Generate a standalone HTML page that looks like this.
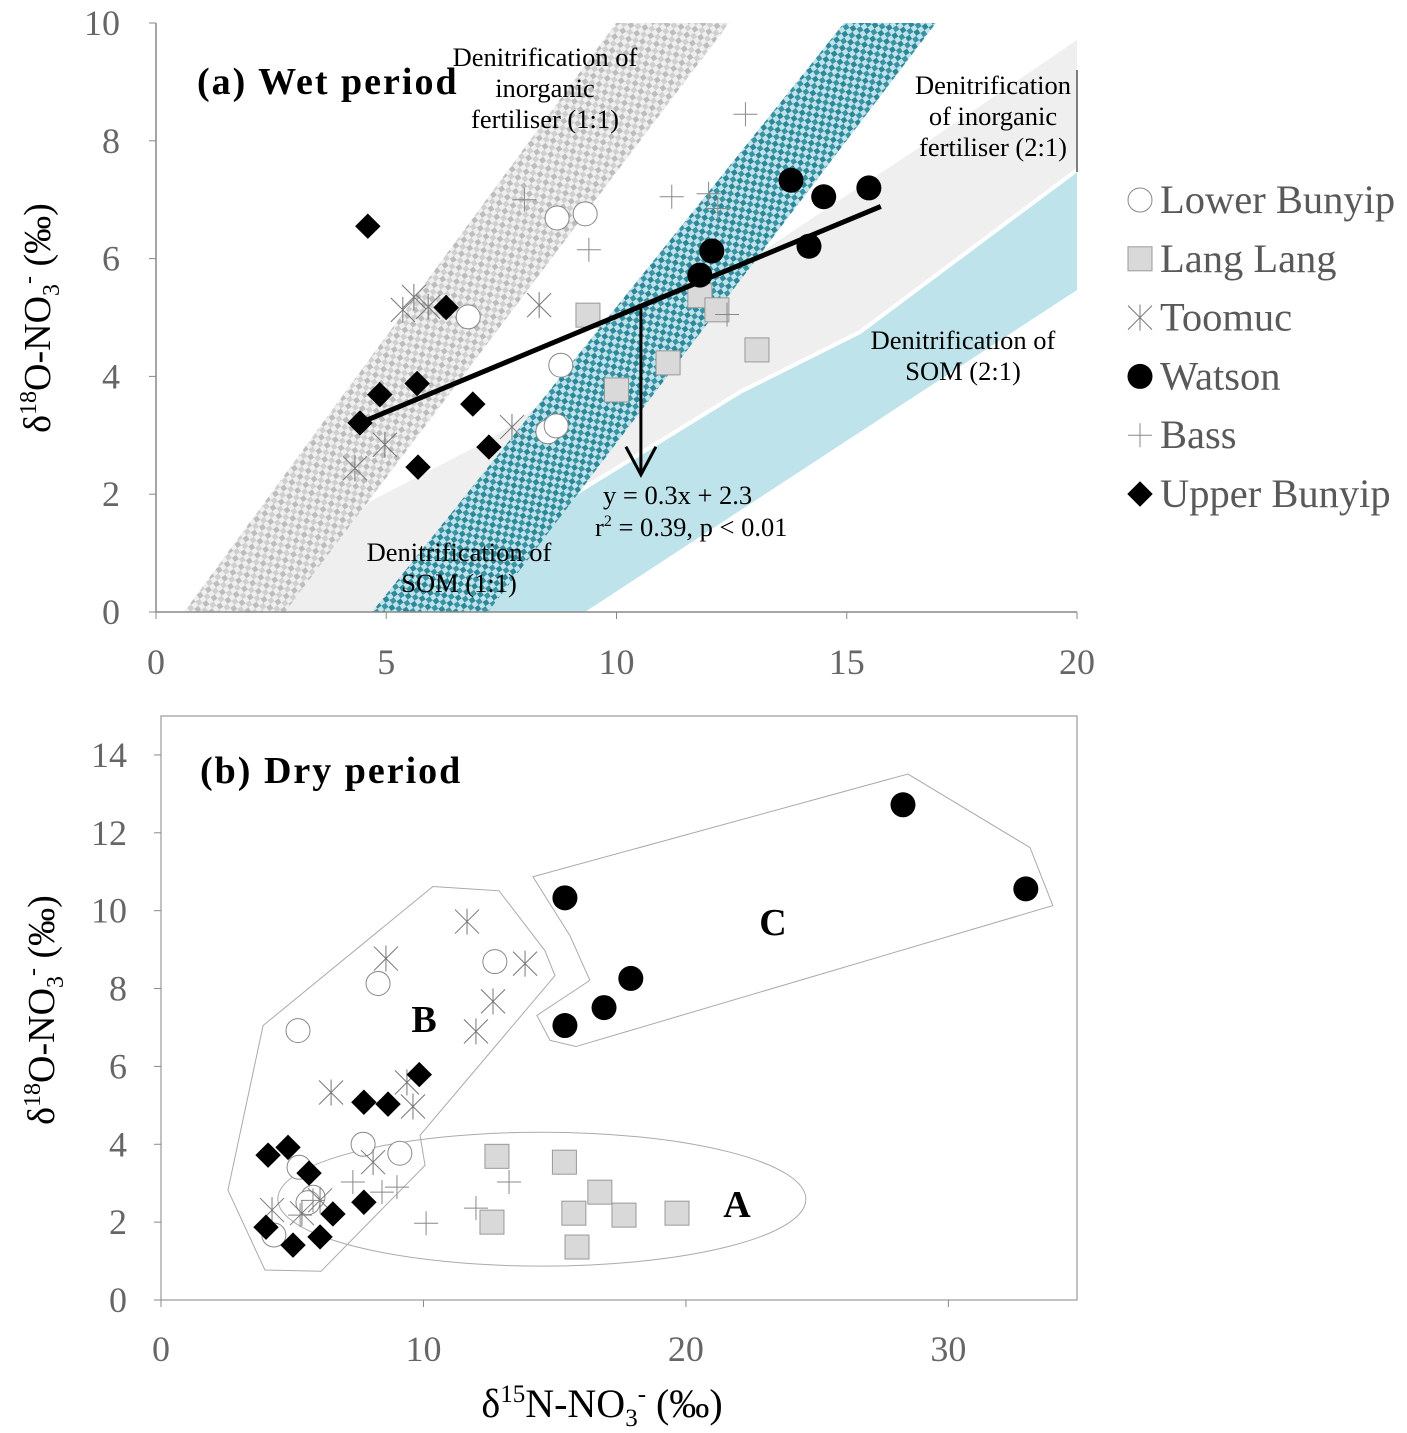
<!DOCTYPE html>
<html><head><meta charset="utf-8">
<style>
body{margin:0;background:#fff;}
svg{display:block;font-family:"Liberation Serif",serif;}
</style></head>
<body>
<svg id="chart" width="1407" height="1433" viewBox="0 0 1407 1433">
<defs>
<pattern id="grayChk" width="10" height="10" patternUnits="userSpaceOnUse" patternTransform="rotate(-35)">
<rect width="10" height="10" fill="#efefef"/><rect x="0" y="0" width="5" height="5" fill="#bdbdbd"/><rect x="5" y="5" width="5" height="5" fill="#d0d0d0"/>
</pattern>
<pattern id="tealChk" width="10" height="10" patternUnits="userSpaceOnUse" patternTransform="rotate(-35)">
<rect width="10" height="10" fill="#bfe3ea"/><rect x="0" y="0" width="5" height="5" fill="#2e8799"/><rect x="5" y="5" width="5" height="5" fill="#3a93a4"/>
</pattern>
<clipPath id="clipA"><rect x="156" y="23" width="921" height="589"/></clipPath>
</defs>
<g id="panelA"></g>
<g id="panelB"></g>
<g id="legend"></g>
</svg>
<script>
// ---------- Panel A data ----------
const aLowerX=[8.71,9.32,6.78,8.79,8.51,8.69];
const aLowerY=[6.69,6.76,5.01,4.19,3.06,3.16];
const aLangX=[9.38,10.0,11.12,11.81,12.18,13.05];
const aLangY=[5.04,3.77,4.23,5.37,5.13,4.45];
const aToomX=[5.6,5.36,5.91,8.32,4.97,4.32,7.73];
const aToomY=[5.35,5.13,5.18,5.21,2.84,2.44,3.14];
const aWatX=[13.79,14.5,15.48,12.07,11.81,14.18];
const aWatY=[7.33,7.05,7.2,6.13,5.72,6.21];
const aBassX=[8.0,9.4,12.8,11.2,12.0,12.2,12.4];
const aBassY=[7.0,6.15,8.45,7.05,7.1,6.85,5.05];
const aUpX=[4.6,6.3,5.67,4.86,4.43,6.88,5.69,7.23];
const aUpY=[6.55,5.17,3.88,3.69,3.21,3.53,2.46,2.8];
const aXTicks=[0,5,10,15,20];
const aYTicks=[0,2,4,6,8,10];
const fitSlope=0.325, fitIntercept=1.77, fitXStart=4.43, fitXEnd=15.74;
// ---------- Panel B data ----------
const bLowerX=[8.27,12.72,5.22,7.7,9.1,5.26,5.79,4.3,5.6];
const bLowerY=[8.13,8.69,6.92,4.0,3.77,3.41,2.64,1.67,2.5];
const bLangX=[12.8,15.37,16.72,15.73,17.64,19.66,12.61,15.85];
const bLangY=[3.69,3.54,2.77,2.23,2.18,2.23,2.0,1.36];
const bToomX=[11.66,8.57,13.87,12.65,12.0,6.48,9.37,9.6,8.08,4.23,6.06,5.37];
const bToomY=[9.72,8.77,8.64,7.67,6.9,5.33,5.59,4.97,3.54,2.31,2.56,2.23];
const bWatX=[15.39,28.27,32.95,17.9,16.88,15.39];
const bWatY=[10.33,12.72,10.56,8.26,7.51,7.05];
const bBassX=[7.31,8.99,8.42,13.26,12.0,10.1,5.79,5.3];
const bBassY=[3.03,2.9,2.77,3.03,2.36,1.97,2.56,2.18];
const bUpX=[9.84,7.73,8.65,4.08,4.84,5.64,7.73,6.55,4.0,5.03,6.06];
const bUpY=[5.79,5.08,5.03,3.72,3.92,3.26,2.51,2.21,1.87,1.41,1.62];
const bXTicks=[0,10,20,30];
const bYTicks=[0,2,4,6,8,10,12,14];
const hullBX=[3.89,10.36,12.88,14.63,15.01,9.87,10.06,6.1,3.96,2.55];
const hullBY=[7.05,10.62,10.51,8.97,8.33,4.23,3.46,0.74,0.77,2.82];
const hullCX=[14.17,28.46,33.11,33.98,15.81,14.82,14.32,16.34,15.58];
const hullCY=[10.87,13.51,11.62,10.13,6.51,6.67,7.31,8.21,9.36];
const ellA=[14.51,2.59,10.06,1.72];

const NS="http://www.w3.org/2000/svg";
function mk(parent,tag,attrs,text){const e=document.createElementNS(NS,tag);for(const k in attrs)e.setAttribute(k,attrs[k]);if(text!==undefined)e.textContent=text;parent.appendChild(e);return e;}

const axA={x0:156,x1:1077,y0:612,y1:23,xmin:0,xmax:20,ymin:0,ymax:10};
const axB={x0:161,x1:1077,y0:1300,y1:716,xmin:0,xmax:34.9,ymin:0,ymax:15};
function sx(ax,v){return ax.x0+(v-ax.xmin)/(ax.xmax-ax.xmin)*(ax.x1-ax.x0);}
function sy(ax,v){return ax.y0-(v-ax.ymin)/(ax.ymax-ax.ymin)*(ax.y0-ax.y1);}

function drawMarker(g,type,x,y){
  let e;
  if(type==='circle'){e=mk(g,'circle',{cx:x,cy:y,r:12,fill:'#fff',stroke:'#888','stroke-width':1});}
  else if(type==='square'){e=mk(g,'rect',{x:x-12,y:y-12,width:24,height:24,fill:'#d9d9d9',stroke:'#999','stroke-width':1});}
  else if(type==='x'){e=mk(g,'path',{d:`M${x-12},${y-12}L${x+12},${y+12}M${x-12},${y+12}L${x+12},${y-12}M${x},${y-13}L${x},${y+13}`,stroke:'#777','stroke-width':1,fill:'none'});}
  else if(type==='dot'){e=mk(g,'circle',{cx:x,cy:y,r:12.5,fill:'#000'});}
  else if(type==='plus'){e=mk(g,'path',{d:`M${x-12},${y}L${x+12},${y}M${x},${y-12}L${x},${y+12}`,stroke:'#888','stroke-width':1,fill:'none'});}
  else {e=mk(g,'rect',{x:x-9,y:y-9,width:18,height:18,fill:'#000',transform:`rotate(45 ${x} ${y})`});}
  return e;
}
function series(g,ax,xs,ys,type,name){
  const sg=mk(g,'g',{});
  
  
  xs.forEach((v,i)=>{const m=drawMarker(sg,type,sx(ax,v),sy(ax,ys[i]));
    
    });
}

// ---------- Panel A ----------
const A=document.getElementById('panelA');
const bands=mk(A,'g',{'clip-path':'url(#clipA)'});


mk(bands,'polygon',{points:'270,612 369,502 489,440 760,253 920,147 1077,40 1077,168 860,332 740,392 560,503 470,612',fill:'#efefef'});
mk(bands,'polygon',{points:'470,612 560,503 740,392 860,332 1077,170 1077,290 585,612',fill:'#bfe3ea'});
mk(bands,'polyline',{points:'470,612 560,503 740,392 860,332 1077,170',fill:'none',stroke:'#fff','stroke-width':4});
mk(bands,'polygon',{points:'184,612 616,23 729,23 285,612',fill:'url(#grayChk)'});
mk(bands,'polygon',{points:'372,612 844,23 936,23 488,612',fill:'url(#tealChk)'});

mk(A,'line',{x1:156,y1:23,x2:156,y2:612,stroke:'#888','stroke-width':1.5});
mk(A,'line',{x1:156,y1:612,x2:1077,y2:612,stroke:'#888','stroke-width':1.5});
mk(A,'line',{x1:1077,y1:70,x2:1077,y2:172,stroke:'#555','stroke-width':1.5});
aXTicks.forEach(t=>{const x=sx(axA,t);mk(A,'line',{x1:x,y1:612,x2:x,y2:619,stroke:'#888'});
  const l=mk(A,'text',{x:x,y:674,'text-anchor':'middle','font-size':36,fill:'#666'},t);
  });
aYTicks.forEach(t=>{const y=sy(axA,t);mk(A,'line',{x1:149,y1:y,x2:156,y2:y,stroke:'#888'});
  const l=mk(A,'text',{x:120,y:y+12,'text-anchor':'end','font-size':36,fill:'#666'},t);
  });

series(A,axA,aLangX,aLangY,'square','lang-lang-series');
series(A,axA,aLowerX,aLowerY,'circle','lower-bunyip-series');
series(A,axA,aToomX,aToomY,'x','toomuc-series');
series(A,axA,aBassX,aBassY,'plus','bass-series');
series(A,axA,aWatX,aWatY,'dot','watson-series');
series(A,axA,aUpX,aUpY,'diamond','upper-bunyip-series');

const fit=mk(A,'line',{x1:sx(axA,fitXStart),y1:sy(axA,fitSlope*fitXStart+fitIntercept),x2:sx(axA,fitXEnd),y2:sy(axA,fitSlope*fitXEnd+fitIntercept),stroke:'#000','stroke-width':5});

const ax10=sx(axA,10.53);
const arr=mk(A,'path',{d:`M${ax10},${sy(axA,5.16)}L${ax10},${sy(axA,2.33)}M${ax10-15},${sy(axA,2.33)-28}L${ax10},${sy(axA,2.33)}L${ax10+15},${sy(axA,2.33)-28}`,stroke:'#000','stroke-width':3,fill:'none'});


const tA=mk(A,'text',{x:197,y:94,'font-size':38,'font-weight':'bold','letter-spacing':2},'(a) Wet period');

function lines(g,x,ys,arr,size,name,anchor){const t=mk(g,'text',{'font-size':size,'text-anchor':anchor||'middle'});
  
  arr.forEach((s,i)=>mk(t,'tspan',{x:x,y:ys[i]},s));return t;}
lines(A,545,[66,97,128],['Denitrification of','inorganic','fertiliser (1:1)'],26.5,'label-inorganic-1-1');
lines(A,993,[94,125,156],['Denitrification','of inorganic','fertiliser (2:1)'],26.5,'label-inorganic-2-1');
lines(A,963,[349,380],['Denitrification of','SOM (2:1)'],26.5,'label-som-2-1');
lines(A,459,[561,592],['Denitrification of','SOM (1:1)'],26.5,'label-som-1-1');
const eq=mk(A,'text',{x:603,y:504,'font-size':26.5},'y = 0.3x + 2.3');

const r2=mk(A,'text',{x:595,y:536,'font-size':26.5});

mk(r2,'tspan',{},'r');mk(r2,'tspan',{dy:-10,'font-size':16},'2');mk(r2,'tspan',{dy:10},' = 0.39, p < 0.01');

function yTitle(g,cx,cy,name){const t=mk(g,'text',{x:0,y:0,'font-size':38,'text-anchor':'middle',transform:`translate(${cx},${cy}) rotate(-90)`});
  
  mk(t,'tspan',{},'δ');mk(t,'tspan',{dy:-14,'font-size':24},'18');mk(t,'tspan',{dy:14},'O-NO');mk(t,'tspan',{dy:9,'font-size':24},'3');mk(t,'tspan',{dy:-23,'font-size':24},'-');mk(t,'tspan',{dy:14},' (‰)');}
yTitle(A,50,318,'y-axis-title-a');

// ---------- Panel B ----------
const B=document.getElementById('panelB');
mk(B,'rect',{x:161,y:716,width:916,height:584,fill:'none',stroke:'#999','stroke-width':1.2});
bXTicks.forEach(t=>{const x=sx(axB,t);mk(B,'line',{x1:x,y1:1300,x2:x,y2:1307,stroke:'#888'});
  const l=mk(B,'text',{x:x,y:1361,'text-anchor':'middle','font-size':36,fill:'#666'},t);
  });
bYTicks.forEach(t=>{const y=sy(axB,t);mk(B,'line',{x1:154,y1:y,x2:161,y2:y,stroke:'#888'});
  const l=mk(B,'text',{x:127,y:y+12,'text-anchor':'end','font-size':36,fill:'#666'},t);
  });
function hull(xs,ys,name){const p=mk(B,'polygon',{points:xs.map((v,i)=>sx(axB,v)+','+sy(axB,ys[i])).join(' '),fill:'none',stroke:'#aaa','stroke-width':1});
  }
hull(hullBX,hullBY,'group-b-outline');
hull(hullCX,hullCY,'group-c-outline');
const el=mk(B,'ellipse',{cx:sx(axB,ellA[0]),cy:sy(axB,ellA[1]),rx:ellA[2]*(axB.x1-axB.x0)/(axB.xmax-axB.xmin),ry:ellA[3]*(axB.y0-axB.y1)/(axB.ymax-axB.ymin),fill:'none',stroke:'#aaa','stroke-width':1});


series(B,axB,bLangX,bLangY,'square','lang-lang-series');
series(B,axB,bLowerX,bLowerY,'circle','lower-bunyip-series');
series(B,axB,bToomX,bToomY,'x','toomuc-series');
series(B,axB,bBassX,bBassY,'plus','bass-series');
series(B,axB,bWatX,bWatY,'dot','watson-series');
series(B,axB,bUpX,bUpY,'diamond','upper-bunyip-series');

const tB=mk(B,'text',{x:200,y:783,'font-size':38,'font-weight':'bold','letter-spacing':2},'(b) Dry period');

[['A',737,1217],['B',424,1032],['C',773,935]].forEach(([s,x,y])=>{const t=mk(B,'text',{x:x,y:y,'font-size':38,'font-weight':'bold','text-anchor':'middle'},s);
  });
yTitle(B,54,1010,'y-axis-title-b');
const xt=mk(B,'text',{x:602,y:1417,'font-size':40,'text-anchor':'middle'});

mk(xt,'tspan',{},'δ');mk(xt,'tspan',{dy:-15,'font-size':25},'15');mk(xt,'tspan',{dy:15},'N-NO');mk(xt,'tspan',{dy:9,'font-size':25},'3');mk(xt,'tspan',{dy:-24,'font-size':25},'-');mk(xt,'tspan',{dy:15},' (‰)');

// ---------- Legend ----------
const L=document.getElementById('legend');
const legNames=['Lower Bunyip','Lang Lang','Toomuc','Watson','Bass','Upper Bunyip'];
const legTypes=['circle','square','x','dot','plus','diamond'];
legNames.forEach((n,i)=>{const y=200+i*58.8;const g=mk(L,'g',{});
  
  drawMarker(g,legTypes[i],1140,y);
  mk(g,'text',{x:1160,y:y+13,'font-size':40.5,fill:'#595959'},n);});
</script>
</body></html>
